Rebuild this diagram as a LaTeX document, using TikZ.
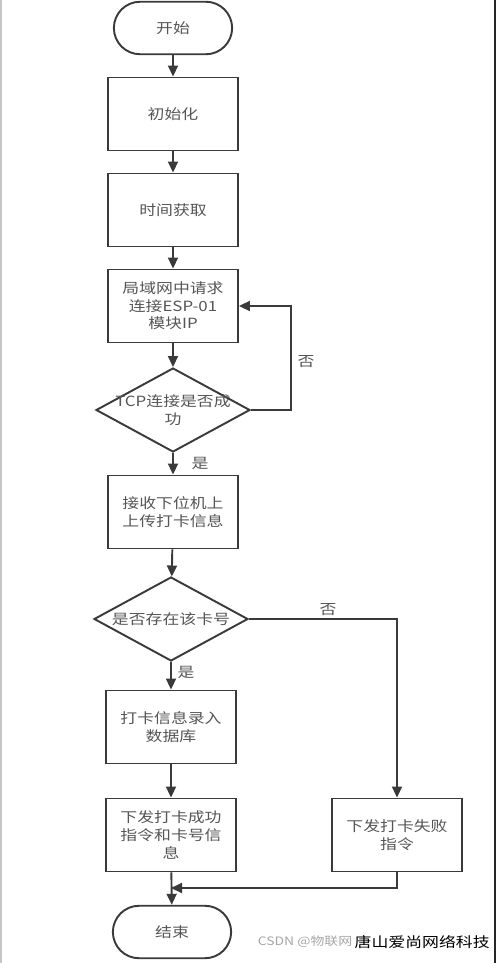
\documentclass[tikz,border=0pt]{standalone}
\usepackage{fontspec}
\setmainfont{Noto Sans CJK SC}[FakeStretch=1.2]
\usepackage{tikz}
\usetikzlibrary{arrows.meta,shapes.geometric,shapes.misc}
\definecolor{ink}{HTML}{3A3A3A}
\definecolor{txt}{HTML}{555555}

\begin{document}
\begin{tikzpicture}[x=0.02cm,y=-0.02cm,
    font=\fontsize{8}{10}\selectfont,
    term/.style={draw=ink,line width=1.1pt,rounded rectangle,
                 minimum width=2.6cm,minimum height=1.05cm,text=txt},
    proc/.style={draw=ink,line width=1.1pt,rectangle,align=center,
                 minimum width=2.6cm,minimum height=1.46cm,text=txt},
    decide/.style={draw=ink,line width=1.1pt,diamond,align=center,
                 shape aspect=1.82,inner ysep=0pt,inner xsep=-0.2cm,
                 minimum width=3.08cm,minimum height=1.68cm,text=txt},
    flow/.style={draw=ink,line width=1.1pt,
                 -{Triangle[length=0.22cm,width=0.2cm]}},
    lbl/.style={text=txt}]
  \useasboundingbox (0,0) rectangle (500,963);
  % page edges
  \draw[gray!45,line width=0.8pt] (1,0) -- (1,963);
  \draw[black!85,line width=1.6pt] (495,0) -- (495,963);

  \node[term] (start) at (173,28) {开始};
  \node[proc] (init) at (173,114) {初始化};
  \node[proc] (clock) at (173,210) {时间获取};
  \node[proc] (req) at (173,306) {局域网中请求\\连接ESP-01\\模块IP};
  \node[decide] (tcp) at (173,410) {TCP连接是否成\\功};
  \node[proc] (recv) at (173,512) {接收下位机上\\上传打卡信息};
  \node[decide] (card) at (171,619) {是否存在该卡号};
  \node[proc] (save) at (171,727) {打卡信息录入\\数据库};
  \node[proc] (okmsg) at (171,835) {下发打卡成功\\指令和卡号信\\息};
  \node[proc] (failmsg) at (397,835) {下发打卡失败\\指令};
  \node[term] (stop) at (172,932) {结束};
  \coordinate (join) at (171,888);

  \draw[flow] (start) -- (init);
  \draw[flow] (init) -- (clock);
  \draw[flow] (clock) -- (req);
  \draw[flow] (req) -- (tcp);
  \draw[flow] (tcp.east) -- ++(40,0) |- (req.east);
  \draw[flow] (tcp) -- (recv);
  \draw[flow] (recv) -- (card);
  \draw[flow] (card.east) -| (failmsg.north);
  \draw[flow] (card) -- (save);
  \draw[flow] (save) -- (okmsg);
  \draw[flow] (okmsg) -- (stop);
  \draw[flow] (failmsg.south) |- (join);

  \node[lbl] (no1) at (306,362) {否};
  \node[lbl] (yes1) at (200,463) {是};
  \node[lbl] (no2) at (328,610) {否};
  \node[lbl] (yes2) at (186,672) {是};

  % watermark
  \node[anchor=east,text=black,inner sep=0pt] (wmb) at (490,942) {唐山爱尚网络科技};
  \node[anchor=east,text=gray!70,inner sep=0pt,font=\fontsize{6.6}{8}\selectfont] (wm) at ([xshift=-1pt]wmb.west) {CSDN @物联网};
\end{tikzpicture}
\end{document}
